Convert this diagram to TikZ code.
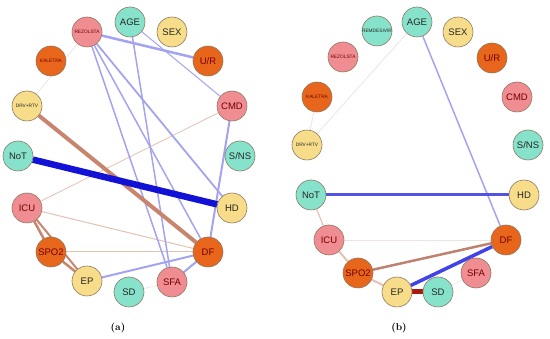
\documentclass[tikz,border=0pt]{standalone}
\usepackage{fontspec}
\setsansfont{Liberation Sans}
\usetikzlibrary{backgrounds}
\definecolor{cTq}{HTML}{86E2CA}
\definecolor{cPk}{HTML}{EF8D93}
\definecolor{cYl}{HTML}{F7DC8A}
\definecolor{cOr}{HTML}{E8661C}
\definecolor{cRim}{HTML}{8C7A62}
\definecolor{cLav}{HTML}{A3A3F2}
\definecolor{cBlue}{HTML}{1212D6}
\definecolor{cMid}{HTML}{5252E4}
\definecolor{cBrn}{HTML}{C8846C}
\definecolor{cBeige}{HTML}{E3C2B2}
\definecolor{cPale}{HTML}{F1E2E2}
\definecolor{cRed}{HTML}{A81A10}
\begin{document}
\begin{tikzpicture}[x=1pt, y=-1pt,
  vtx/.style={circle, draw=cRim, line width=0.6pt, minimum size=30pt, inner sep=0pt,
    font=\sffamily\fontsize{9.5}{9.5}\selectfont, text=black!85},
  smalltxt/.style={font=\sffamily\fontsize{4.8}{4.8}\selectfont},
  tq/.style={vtx, fill=cTq},
  pk/.style={vtx, fill=cPk, text=red!45!black},
  yl/.style={vtx, fill=cYl},
  og/.style={vtx, fill=cOr, text=red!45!black},
  captxt/.style={font=\bfseries\fontsize{10}{10}\selectfont}
]
\useasboundingbox (0,0) rectangle (550,339);

% panel (a)
\node[pk, smalltxt] (aREZ) at (87,32) {REZOLSTA};
\node[tq] (aAGE) at (130,22) {AGE};
\node[yl] (aSEX) at (172,32) {SEX};
\node[og, smalltxt] (aKAL) at (51,61) {KALETRA};
\node[og] (aUR) at (208,61) {U/R};
\node[yl, smalltxt] (aDRV) at (27,106) {DRV+RTV};
\node[pk] (aCMD) at (232,106) {CMD};
\node[tq] (aNOT) at (18,156) {NoT};
\node[tq] (aSNS) at (240,156) {S/NS};
\node[pk] (aICU) at (27,208) {ICU};
\node[yl] (aHD) at (232,208) {HD};
\node[og] (aSPO) at (51,252) {SPO2};
\node[og] (aDF) at (208,252) {DF};
\node[yl] (aEP) at (87,281) {EP};
\node[pk] (aSFA) at (172,282) {SFA};
\node[tq] (aSD) at (129,292) {SD};
\node[captxt] (aCap) at (118,328) {(a)};

% panel (b)
\node[tq, smalltxt] (bREM) at (377,31) {REMDESIVIR};
\node[tq] (bAGE) at (417,22) {AGE};
\node[yl] (bSEX) at (458,32) {SEX};
\node[pk, smalltxt] (bREZ) at (343,57) {REZOLSTA};
\node[og] (bUR) at (492,58) {U/R};
\node[og, smalltxt] (bKAL) at (317,97) {KALETRA};
\node[pk] (bCMD) at (517,97) {CMD};
\node[yl, smalltxt] (bDRV) at (307,145) {DRV+RTV};
\node[tq] (bSNS) at (528,145) {S/NS};
\node[tq] (bNOT) at (311,195) {NoT};
\node[yl] (bHD) at (524,195) {HD};
\node[pk] (bICU) at (329,240) {ICU};
\node[og] (bDF) at (506,240) {DF};
\node[og] (bSPO) at (358,273) {SPO2};
\node[pk] (bSFA) at (476,273) {SFA};
\node[yl] (bEP) at (397,292) {EP};
\node[tq] (bSD) at (438,292) {SD};
\node[captxt] (bCap) at (399,328) {(b)};

\begin{pgfonlayer}{background}
  \draw[cPale, line width=0.8pt] (aREZ) -- (aDRV);
  \draw[cPale, line width=0.6pt] (aSD) -- (aSFA);
  \draw[cBeige, line width=0.8pt] (aCMD) -- (aICU);
  \draw[cBeige, line width=1pt] (aICU) -- (aDF);
  \draw[cBeige, line width=1pt] (aSPO) -- (aDF);
  \draw[cLav, line width=1pt] (aAGE) -- (aCMD);
  \draw[cLav, line width=1.5pt] (aAGE) -- (aSFA);
  \draw[cLav, line width=1.5pt] (aREZ) -- (aSFA);
  \draw[cLav, line width=1.5pt] (aREZ) -- (aDF);
  \draw[cLav, line width=1.8pt] (aREZ) -- (aHD);
  \draw[cLav, line width=2.5pt] (aREZ) -- (aUR);
  \draw[cLav, line width=2pt] (aCMD) -- (aDF);
  \draw[cLav, line width=2pt] (aEP) -- (aDF);
  \draw[cLav, line width=2pt] (aSFA) -- (aDF);
  \draw[cBrn, line width=4pt] (aDRV) -- (aDF);
  \draw[cBrn, line width=2.5pt] (aICU) -- (aSPO);
  \draw[cBrn, line width=2.5pt] (aSPO) -- (aEP);
  \draw[cBrn, line width=2pt] (aICU) -- (aEP);
  \draw[cBlue, line width=6.5pt] (aNOT) -- (aHD);

  \draw[cPale, line width=0.8pt] (bAGE) -- (bDRV);
  \draw[cPale, line width=0.8pt] (bKAL) -- (bDRV);
  \draw[cPale, line width=0.6pt] (bICU) -- (bDF);
  \draw[cPale, line width=0.6pt] (bSD) -- (bSFA);
  \draw[cBeige, line width=1.2pt] (bNOT) -- (bICU);
  \draw[cBeige, line width=2pt] (bICU) -- (bSPO);
  \draw[cBeige, line width=2pt] (bSPO) -- (bEP);
  \draw[cBrn!85!gray, line width=2.5pt] (bSPO) -- (bDF);
  \draw[cLav, line width=1.5pt] (bAGE) -- (bDF);
  \draw[cMid, line width=3pt] (bNOT) -- (bHD);
  \draw[cMid!80!blue, line width=3.5pt] (bEP) -- (bDF);
  \draw[cRed, line width=5pt] (bEP) -- (bSD);
\end{pgfonlayer}
\end{tikzpicture}
\end{document}
